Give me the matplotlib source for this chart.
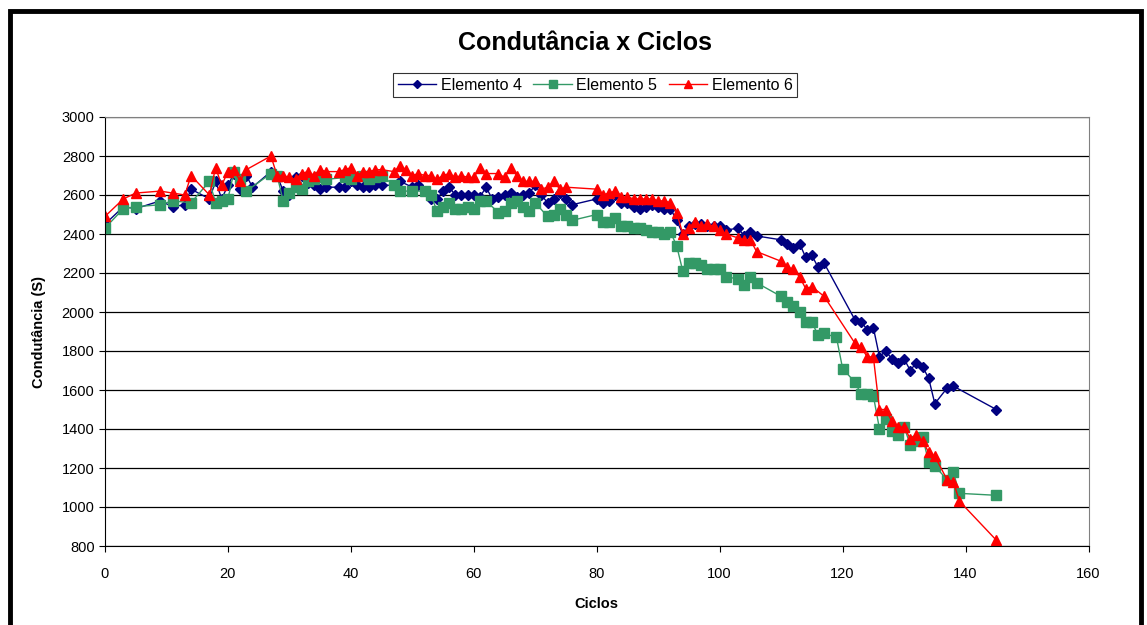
import numpy as np
import matplotlib
matplotlib.use("Agg")
from matplotlib import pyplot as plt
from matplotlib.patches import Rectangle

plt.rcParams['font.family'] = ['Liberation Sans', 'DejaVu Sans']

# Elemento 4
x4 = [0, 3, 5, 9, 11, 13, 14, 17, 18, 19, 20, 21, 22, 23, 24, 27, 28, 29, 30, 31, 32, 33, 34, 35, 36,
      38, 39, 40, 41, 42, 43, 44, 45, 47, 48, 50, 51, 52, 53, 54, 55, 56, 57, 58, 59, 60, 61, 62, 63,
      64, 65, 66, 67, 68, 69, 70, 71, 72, 73, 74, 75, 76, 80, 81, 82, 83, 84, 85, 86, 87, 88, 89, 90,
      91, 92, 93, 94, 95, 96, 97, 98, 99, 100, 101, 103, 104, 105, 106, 110, 111, 112, 113, 114, 115,
      116, 117, 122, 123, 124, 125, 126, 127, 128, 129, 130, 131, 132, 133, 134, 135, 137, 138, 145]
y4 = [2450, 2540, 2530, 2570, 2540, 2550, 2630, 2580, 2670, 2580, 2650, 2710, 2630, 2700, 2640, 2720,
      2700, 2620, 2600, 2690, 2700, 2660, 2650, 2630, 2640, 2640, 2640, 2670, 2650, 2640, 2640, 2650,
      2650, 2650, 2670, 2640, 2650, 2620, 2580, 2580, 2620, 2640, 2600, 2600, 2600, 2600, 2590, 2640,
      2580, 2590, 2600, 2610, 2590, 2600, 2610, 2650, 2600, 2560, 2580, 2610, 2580, 2550, 2580, 2560,
      2570, 2600, 2560, 2560, 2540, 2530, 2540, 2550, 2540, 2530, 2530, 2470, 2400, 2440, 2450, 2450,
      2440, 2440, 2440, 2420, 2430, 2390, 2410, 2390, 2370, 2350, 2330, 2350, 2280, 2290, 2230, 2250,
      1960, 1950, 1910, 1920, 1770, 1800, 1760, 1740, 1760, 1700, 1740, 1720, 1660, 1530, 1610, 1620,
      1500]

# Elemento 5
x5 = [0, 3, 5, 9, 11, 14, 17, 18, 19, 20, 21, 22, 23, 27, 28, 29, 30, 31, 32, 33, 34, 35, 36, 39, 40,
      42, 43, 44, 45, 47, 48, 50, 52, 53, 54, 55, 56, 57, 58, 59, 60, 61, 62, 64, 65, 66, 67, 68, 69,
      70, 72, 73, 74, 75, 76, 80, 81, 82, 83, 84, 85, 86, 87, 88, 89, 90, 91, 92, 93, 94, 95, 96, 97,
      98, 99, 100, 101, 103, 104, 105, 106, 110, 111, 112, 113, 114, 115, 116, 117, 119, 120, 122,
      123, 124, 125, 126, 127, 128, 129, 130, 131, 132, 133, 134, 135, 137, 138, 139, 145]
y5 = [2430, 2530, 2540, 2550, 2570, 2560, 2670, 2560, 2570, 2580, 2720, 2680, 2620, 2710, 2700, 2570,
      2610, 2640, 2630, 2670, 2680, 2690, 2680, 2690, 2680, 2700, 2680, 2690, 2700, 2650, 2620, 2620,
      2620, 2600, 2520, 2540, 2560, 2530, 2530, 2540, 2530, 2570, 2570, 2510, 2520, 2560, 2570, 2540,
      2520, 2560, 2490, 2500, 2530, 2500, 2470, 2500, 2460, 2460, 2480, 2440, 2440, 2430, 2430, 2420,
      2410, 2410, 2400, 2410, 2340, 2210, 2250, 2250, 2240, 2220, 2220, 2220, 2180, 2170, 2140, 2180,
      2150, 2080, 2050, 2030, 2000, 1950, 1950, 1880, 1890, 1870, 1710, 1640, 1580, 1580, 1570, 1400,
      1450, 1390, 1370, 1410, 1320, 1340, 1360, 1230, 1210, 1140, 1180, 1070, 1060]

# Elemento 6
x6 = [0, 3, 5, 9, 11, 13, 14, 17, 18, 19, 20, 21, 22, 23, 27, 28, 29, 30, 31, 32, 33, 34, 35, 36, 38,
      39, 40, 41, 42, 43, 44, 45, 47, 48, 49, 50, 51, 52, 53, 54, 55, 56, 57, 58, 59, 60, 61, 62, 64,
      65, 66, 67, 68, 69, 70, 71, 72, 73, 74, 75, 80, 81, 82, 83, 84, 85, 86, 87, 88, 89, 90, 91, 92,
      93, 94, 95, 96, 97, 98, 99, 100, 101, 103, 104, 105, 106, 110, 111, 112, 113, 114, 115, 117,
      122, 123, 124, 125, 126, 127, 128, 129, 130, 131, 132, 133, 134, 135, 137, 138, 139, 145]
y6 = [2490, 2580, 2610, 2620, 2610, 2600, 2700, 2600, 2740, 2650, 2720, 2730, 2670, 2730, 2800, 2700,
      2700, 2690, 2680, 2710, 2720, 2700, 2730, 2720, 2720, 2730, 2740, 2700, 2720, 2720, 2730, 2730,
      2720, 2750, 2730, 2700, 2710, 2700, 2700, 2680, 2700, 2710, 2690, 2700, 2690, 2690, 2740, 2710,
      2710, 2690, 2740, 2700, 2670, 2670, 2670, 2630, 2640, 2670, 2630, 2640, 2630, 2600, 2610, 2620,
      2590, 2590, 2580, 2580, 2580, 2580, 2570, 2570, 2560, 2510, 2400, 2430, 2460, 2440, 2450, 2440,
      2420, 2400, 2380, 2370, 2370, 2310, 2260, 2230, 2220, 2180, 2120, 2130, 2080, 1840, 1820, 1770,
      1770, 1500, 1500, 1440, 1410, 1410, 1350, 1370, 1340, 1280, 1260, 1140, 1130, 1030, 830]

fig = plt.figure(figsize=(11.47, 6.25), dpi=100)
ax = fig.add_axes([0.0915, 0.1264, 0.8575, 0.6864])

ax.plot(x4, y4, color='#000080', marker='D', markersize=5.2, linewidth=1, label='Elemento 4')
ax.plot(x5, y5, color='#339966', marker='s', markersize=6.5, linewidth=1, label='Elemento 5')
ax.plot(x6, y6, color='#FF0000', marker='^', markersize=7, linewidth=1, label='Elemento 6')

ax.set_xlim(0, 160)
ax.set_ylim(800, 3000)
ax.set_xticks(np.arange(0, 161, 20))
ax.set_yticks(np.arange(800, 3001, 200))
ax.yaxis.grid(True, color='#000000', linewidth=0.9)
ax.set_axisbelow(True)
ax.tick_params(labelsize=10.5, length=4, direction='out', color='#000000')
ax.tick_params(axis='x', pad=11)
for s in ['top', 'right']:
    ax.spines[s].set_color('#808080')
for s in ['left', 'bottom']:
    ax.spines[s].set_color('#000000')

ax.set_xlabel('Ciclos', fontsize=10.5, fontweight='bold', labelpad=12)
ax.set_ylabel('Condutância (S)', fontsize=10.5, fontweight='bold', labelpad=11)

fig.text(0.51, 0.931, 'Condutância x Ciclos', ha='center', va='center',
         fontsize=18, fontweight='bold')

leg = fig.legend(loc='center', bbox_to_anchor=(0.519, 0.864), ncol=3, fontsize=11.5,
                 frameon=True, fancybox=False, handlelength=2.4, handletextpad=0.3,
                 columnspacing=0.7, borderpad=0.3, markerscale=0.8)
leg.get_frame().set_edgecolor('#000000')
leg.get_frame().set_linewidth(0.8)

# outer chart border
fig.patches.append(Rectangle((0.0087, -0.02), 0.986, 1.0027, transform=fig.transFigure,
                             fill=False, edgecolor='black', linewidth=3.5))

fig.savefig('out.png', dpi=100)
